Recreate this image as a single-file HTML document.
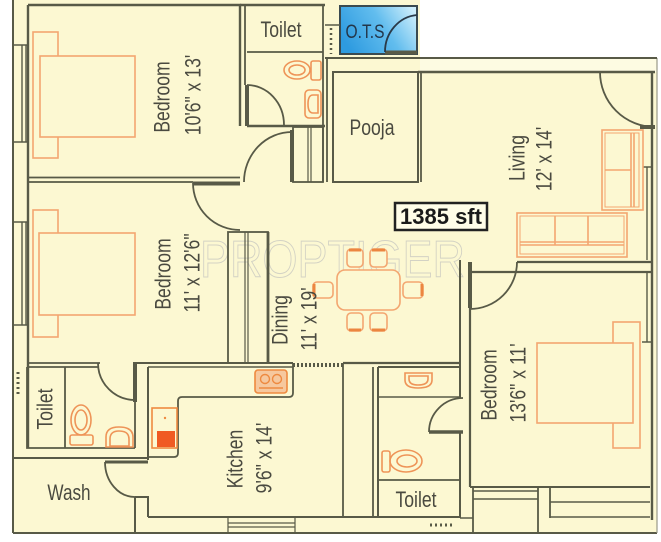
<!DOCTYPE html>
<html><head><meta charset="utf-8"><style>
html,body{margin:0;padding:0;background:#fff;}
svg{display:block;font-family:"Liberation Sans",sans-serif;}
</style></head><body>
<svg width="661" height="542" viewBox="0 0 661 542" xmlns="http://www.w3.org/2000/svg">
<defs>
<linearGradient id="ots" x1="0" y1="0.6" x2="1" y2="0.2">
<stop offset="0" stop-color="#2e9be0"/><stop offset="0.55" stop-color="#62bdee"/><stop offset="1" stop-color="#cdeefb"/>
</linearGradient>
</defs>
<rect width="661" height="542" fill="#fff"/>
<path d="M13,0 H420 V58 H657 V533 H13 Z" fill="#fcf8d2"/>
<rect x="420" y="58" width="237" height="14" fill="#fdfbe2"/>

<!-- watermark -->
<text x="200" y="277" font-size="52" textLength="265" lengthAdjust="spacingAndGlyphs" fill="none" stroke="#d3d2c4" stroke-width="1">PROPTIGER</text>

<!-- OTS -->
<rect x="340" y="6" width="77" height="48" fill="url(#ots)" stroke="#3a4a50" stroke-width="2"/>

<g fill="none" stroke="#585a47" stroke-width="2.4">
<!-- outer -->
<path d="M13,0 V533" stroke-width="2"/>
<path d="M13,533 H657" stroke-width="2"/>
<path d="M657,58 V533" stroke="#9a9a88" stroke-width="1.2"/>
<path d="M325,58 H657" stroke-width="2"/>
<!-- left windows -->
<path d="M22,45 V142 M26,45 V142 M13,45 H28 M13,142 H28 M22,222 V325 M26,222 V325 M13,222 H28 M13,325 H28" stroke-width="1.4"/>
<!-- bedroom 1 -->
<path d="M28,5 H240 V126"/>
<path d="M28,5 V448"/>
<path d="M28,177.5 H240 M28,182 H193" stroke-width="1.8"/>
<path d="M193,183.5 H240" stroke-width="4"/>
<path d="M193,183 A47,47 0 0 0 240,230" stroke-width="1.8"/>
<!-- top toilet -->
<path d="M240,5 H325"/>
<path d="M245,5 V85" stroke-width="1.8"/>
<path d="M247,52 H323" stroke-width="1.8"/>
<path d="M247,126 H325"/>
<path d="M247,85 V126" stroke-width="4"/>
<path d="M247,85 A37,40 0 0 1 284,125" stroke-width="1.8"/>
<!-- bedroom1 door -->
<path d="M292,130 V182" stroke-width="4"/>
<path d="M292,132 A48,50 0 0 0 244,182" stroke-width="1.8"/>
<!-- wardrobe top -->
<rect x="293" y="127" width="30" height="55" stroke-width="1.8"/>
<path d="M308,127 V182 M311,127 V182" stroke-width="1.2"/>
<path d="M323,5 V182 M327,58 V182" stroke-width="1.8"/>
<!-- vent -->
<path d="M325,25 H340" stroke-width="1.5"/>
<path d="M331,28 V54" stroke-width="2.5" stroke-dasharray="2,3"/>
<!-- OTS door -->
<path d="M385,52.5 H417" stroke-width="4"/>
<path d="M417,15 A35,37 0 0 0 385,52" stroke="#2a3a48" stroke-width="1.8"/>
<!-- pooja -->
<rect x="333" y="72" width="85" height="110" stroke-width="2"/>
<path d="M421,72 V182" stroke-width="1.8"/>
<!-- living -->
<path d="M418,72 H655"/>
<path d="M600,72 A55,55 0 0 0 655,127" stroke-width="1.8"/>
<path d="M640,127 H655" stroke-width="4"/>
<path d="M652,72 V520"/>
<path d="M647,167 V260 M647,273 V342 M642,167 H652 M642,342 H652" stroke-width="1.4"/>
<path d="M517,262 H652" stroke-width="2.2"/>
<path d="M470,272 H652" stroke-width="2.2"/>
<!-- bedroom 3 door -->
<path d="M470,262 V308" stroke-width="4"/>
<path d="M517,262 A47,47 0 0 1 470,309" stroke-width="1.8"/>
<path d="M460,260 V398 M460,432 V518" stroke-width="2"/>
<path d="M470,308 V487" stroke-width="2.2"/>
<!-- bottom toilet -->
<path d="M429,432 H463" stroke-width="3.5"/>
<path d="M463,398 A34,34 0 0 0 429,432" stroke-width="1.8"/>
<path d="M378,367 V518 M378,367 H460" stroke-width="2"/>
<path d="M378,397 H460" stroke-width="1.5"/>
<path d="M378,480 H460" stroke-width="1.8"/>
<path d="M343,363 V518 M373,367 V518" stroke-width="1.8"/>
<path d="M343,363 H460" stroke-width="2.2"/>
<path d="M293,365 H343" stroke-width="4" stroke-dasharray="2,2"/>
<!-- kitchen top / bedroom2 bottom -->
<path d="M133,363 H293" stroke-width="2"/>
<path d="M148,367 H293" stroke-width="1.4"/>
<path d="M28,363 H100 M28,367 H98" stroke-width="1.8"/>
<!-- wardrobe 2 -->
<rect x="228" y="232" width="40" height="131" stroke-width="1.8"/>
<path d="M245,232 V363 M248,232 V363" stroke-width="1.2"/>
<path d="M268,232 V363" stroke-width="2.8"/>
<!-- kitchen -->
<path d="M148,367 V460" stroke-width="2"/>
<path d="M293,363 V393 Q293,397 289,397 H182 Q178,397 178,401 V453 Q178,457 174,457 H148" stroke-width="1.8"/>
<!-- left toilet -->
<path d="M27,367 V448 H135 M65,367 V448" stroke-width="1.8"/>
<path d="M135,402 V448" stroke-width="1.8"/>
<path d="M135,363 V402" stroke-width="4"/>
<path d="M98,363 A37,37 0 0 0 135,400" stroke-width="1.8"/>
<path d="M18,372 V397" stroke-width="3" stroke-dasharray="2,3"/>
<!-- wash -->
<path d="M13,458 H148" stroke-width="2"/>
<path d="M105,462 H148" stroke-width="3"/>
<path d="M105,462 A30,35 0 0 0 135,497" stroke-width="1.8"/>
<path d="M135,497 V533 M135,497 H148 V517" stroke-width="2"/>
<!-- kitchen bottom -->
<path d="M148,517 H460" stroke-width="2"/>
<path d="M228,517 V533 M295,517 V533 M228,523 H295 M228,527 H295" stroke-width="1.2"/>
<!-- bottom right -->
<path d="M470,487 H650" stroke-width="2"/>
<path d="M473,487 V533 M538,487 V533 M550,487 V518" stroke-width="1.8"/>
<path d="M473,491 H538 M473,499 H538 M550,502 H650 M550,517 H650 M460,518 H473" stroke-width="1.6"/>
<path d="M430,525 H455" stroke-width="3" stroke-dasharray="2,3"/>
</g>

<!-- furniture -->
<g fill="#fcf8d2" stroke="#f3a670" stroke-width="1.6">
<!-- bed 1 -->
<rect x="33" y="32" width="25" height="126"/>
<rect x="40" y="56" width="95" height="81"/>
<!-- bed 2 -->
<rect x="33" y="210" width="25" height="127"/>
<rect x="39" y="233" width="96" height="82"/>
<!-- bed 3 -->
<rect x="613" y="322" width="27" height="126"/>
<rect x="537" y="343" width="96" height="80"/>
<!-- sofa -->
<rect x="602" y="130" width="41" height="80"/>
<rect x="605" y="133" width="34" height="74" fill="none" stroke-width="1"/>
<path d="M631,133 V207 M634,133 V207 M605,170 H631" fill="none"/>
<rect x="517" y="213" width="110" height="44"/>
<rect x="520" y="216" width="104" height="38" fill="none" stroke-width="1"/>
<path d="M520,242 H624 M520,245 H624 M555,216 V245 M588,216 V245" fill="none"/>
<!-- dining -->
<rect x="337" y="270" width="63" height="40" rx="8"/>
<rect x="347" y="249" width="16" height="18" rx="4"/>
<rect x="370" y="249" width="17" height="18" rx="4"/>
<rect x="347" y="313" width="16" height="18" rx="4"/>
<rect x="370" y="313" width="17" height="18" rx="4"/>
<rect x="313" y="282" width="20" height="16" rx="4"/>
<rect x="403" y="282" width="20" height="16" rx="4"/>
</g>
<g fill="none" stroke="#ec8640" stroke-width="3">
<path d="M349,250 H361 M372,250 H385 M349,330 H361 M372,330 H385 M314,284 V296 M422,284 V296"/>
</g>

<!-- fixtures -->
<g fill="none" stroke="#ee9458" stroke-width="1.6">
<!-- top toilet WC -->
<ellipse cx="297" cy="70" rx="13" ry="9"/>
<ellipse cx="297" cy="70" rx="8" ry="5"/>
<rect x="311" y="61" width="10" height="19" rx="2"/>
<!-- top basin -->
<rect x="305" y="90" width="16" height="28" rx="4"/>
<path d="M318,95 H313 Q308,95 308,104 Q308,113 313,113 H318 Z"/>
<!-- left WC -->
<ellipse cx="81" cy="420" rx="10" ry="15"/>
<ellipse cx="81" cy="420" rx="6" ry="10"/>
<rect x="70" y="435" width="23" height="10" rx="2"/>
<!-- left basin -->
<path d="M106,447 V437 Q106,427 119,427 Q133,427 133,437 V447 Z"/>
<path d="M110,446 V439 Q110,431 119,431 Q129,431 129,439 V446 Z"/>
<!-- bottom WC -->
<ellipse cx="406" cy="461" rx="16" ry="11"/>
<ellipse cx="407" cy="461" rx="10" ry="6"/>
<rect x="382" y="451" width="8" height="21" rx="2"/>
<!-- bottom basin -->
<path d="M405,373 H432 V380 Q432,388 418,388 Q405,388 405,380 Z"/>
<path d="M409,376 H428 V379 Q428,385 418,385 Q409,385 409,379 Z"/>
</g>
<!-- hob -->
<rect x="255" y="370" width="32" height="23" rx="3" fill="#f6c89e" stroke="#ee8a40" stroke-width="1.6"/>
<circle cx="265" cy="379" r="4.5" fill="none" stroke="#ee8a40" stroke-width="1.4"/>
<circle cx="277" cy="379" r="4.5" fill="none" stroke="#ee8a40" stroke-width="1.4"/>
<path d="M259,388 H283" stroke="#ee8a40" stroke-width="1.6"/>
<!-- sink -->
<rect x="152" y="408" width="25" height="40" fill="#fcf8d2" stroke="#ee8a40" stroke-width="1.6"/>
<rect x="157" y="431" width="18" height="16" fill="#f05a22"/>
<circle cx="165" cy="418" r="1.2" fill="#ee8a40"/>

<!-- labels -->
<g fill="#4a4a40" font-size="22" text-anchor="middle">
<text transform="translate(163,97) rotate(-90) scale(0.8,1)" dominant-baseline="central">Bedroom</text>
<text transform="translate(194,95) rotate(-90) scale(0.8,1)" dominant-baseline="central">10'6&quot; x 13'</text>
<text transform="translate(164,274) rotate(-90) scale(0.8,1)" dominant-baseline="central">Bedroom</text>
<text transform="translate(193,273) rotate(-90) scale(0.8,1)" dominant-baseline="central">11' x 12'6&quot;</text>
<text transform="translate(281,320) rotate(-90) scale(0.8,1)" dominant-baseline="central">Dining</text>
<text transform="translate(310,319) rotate(-90) scale(0.8,1)" dominant-baseline="central">11' x 19'</text>
<text transform="translate(518,158) rotate(-90) scale(0.8,1)" dominant-baseline="central">Living</text>
<text transform="translate(545,159) rotate(-90) scale(0.8,1)" dominant-baseline="central">12' x 14'</text>
<text transform="translate(236,459) rotate(-90) scale(0.8,1)" dominant-baseline="central">Kitchen</text>
<text transform="translate(265,458) rotate(-90) scale(0.8,1)" dominant-baseline="central">9'6&quot; x 14'</text>
<text transform="translate(490,385) rotate(-90) scale(0.8,1)" dominant-baseline="central">Bedroom</text>
<text transform="translate(519,383) rotate(-90) scale(0.8,1)" dominant-baseline="central">13'6&quot; x 11'</text>
<text transform="translate(46,409) rotate(-90) scale(0.8,1)" dominant-baseline="central">Toilet</text>
<text transform="translate(281,37) scale(0.8,1)">Toilet</text>
<text transform="translate(372,135) scale(0.8,1)">Pooja</text>
<text transform="translate(69,500) scale(0.78,1)">Wash</text>
<text transform="translate(416,507) scale(0.8,1)">Toilet</text>
<text transform="translate(365,38) scale(0.82,1)" font-size="19" fill="#23364a">O.T.S</text>
</g>

<!-- area box -->
<rect x="395" y="203" width="92" height="27" fill="#fffde8" stroke="#222" stroke-width="2.5"/>
<text x="441" y="224" font-size="22" font-weight="bold" text-anchor="middle" fill="#1a1a1a">1385 sft</text>
</svg>
</body></html>
